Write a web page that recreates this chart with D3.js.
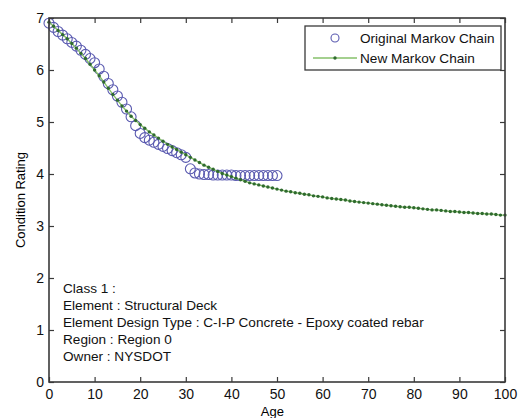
<!DOCTYPE html>
<html><head><meta charset="utf-8">
<script src="https://cdn.jsdelivr.net/npm/d3@7"></script>
<style>body{margin:0;background:#fff}svg{display:block}text{font-family:"Liberation Sans",Arial,sans-serif}</style>
</head><body>
<svg id="c" width="522" height="418"></svg>
<script>
const originalAges = d3.range(0, 51);
const originalValues = [6.90,6.82,6.74,6.67,6.60,6.53,6.46,6.38,6.30,6.22,
  6.14,6.02,5.88,5.74,5.62,5.50,5.38,5.25,5.10,4.93,
  4.78,4.70,4.65,4.61,4.57,4.53,4.49,4.45,4.41,4.37,
  4.32,4.10,4.02,4.00,3.99,3.99,3.98,3.98,3.98,3.98,
  3.98,3.97,3.97,3.97,3.97,3.97,3.97,3.97,3.97,3.97,3.97];
const newAges = d3.range(0, 101);
const newValues = [6.92,6.84,6.76,6.68,6.60,6.51,6.42,6.32,6.22,6.11,
  6.00,5.89,5.77,5.65,5.53,5.42,5.31,5.21,5.11,5.03,
  4.95,4.88,4.81,4.75,4.69,4.63,4.57,4.52,4.47,4.42,
  4.37,4.32,4.27,4.22,4.17,4.13,4.09,4.05,4.01,3.98,
  3.95,3.92,3.89,3.86,3.83,3.81,3.79,3.77,3.75,3.73,
  3.71,3.69,3.67,3.66,3.64,3.63,3.61,3.60,3.58,3.57,
  3.56,3.54,3.53,3.52,3.51,3.50,3.48,3.47,3.46,3.45,
  3.44,3.43,3.42,3.41,3.40,3.39,3.38,3.37,3.36,3.36,
  3.35,3.34,3.33,3.32,3.31,3.31,3.30,3.29,3.28,3.28,
  3.27,3.26,3.26,3.25,3.24,3.24,3.23,3.23,3.22,3.21,3.21];
const xTicks = [0,10,20,30,40,50,60,70,80,90,100];
const yTicks = [0,1,2,3,4,5,6,7];
const legendLabels = ["Original Markov Chain","New Markov Chain"];
const infoLines = ["Class 1 :","Element : Structural Deck","Element Design Type : C-I-P Concrete - Epoxy coated rebar","Region : Region 0","Owner : NYSDOT"];

const L=49,R=505,T=18,B=382;
const svg=d3.select("#c");
const x=d3.scaleLinear().domain([0,100]).range([L,R]);
const y=d3.scaleLinear().domain([0,7]).range([B,T]);
const axisCol="#3a3a3a";

// data
svg.append("g").selectAll("circle").data(originalAges).join("circle")
  .attr("cx",(d,i)=>x(d)).attr("cy",(d,i)=>y(originalValues[i])).attr("r",5)
  .attr("fill","none").attr("stroke","#5a5ab0").attr("stroke-width",1.1);

const line=d3.line().x((d,i)=>x(d)).y((d,i)=>y(newValues[i]));
svg.append("path").datum(newAges).attr("d",line).attr("fill","none")
  .attr("stroke","#86c06a").attr("stroke-width",1.4);
svg.append("g").selectAll("circle").data(newAges).join("circle")
  .attr("cx",d=>x(d)).attr("cy",(d,i)=>y(newValues[i])).attr("r",1.7)
  .attr("fill","#2f6a2f");

// axes
const gx=svg.append("g").attr("transform",`translate(0,${B})`)
  .call(d3.axisBottom(x).tickValues(xTicks).tickSize(-5).tickPadding(7).tickFormat(d3.format("d")));
const gxt=svg.append("g").attr("transform",`translate(0,${T})`)
  .call(d3.axisTop(x).tickValues(xTicks).tickSize(-5).tickFormat(""));
const gy=svg.append("g").attr("transform",`translate(${L},0)`)
  .call(d3.axisLeft(y).tickValues(yTicks).tickSize(-5).tickPadding(5).tickFormat(d3.format("d")));
const gyr=svg.append("g").attr("transform",`translate(${R},0)`)
  .call(d3.axisRight(y).tickValues(yTicks).tickSize(-5).tickFormat(""));
[gx,gxt,gy,gyr].forEach(g=>{
  g.select(".domain").remove();
  g.selectAll("line").attr("stroke",axisCol).attr("stroke-width",1.2);
  g.selectAll("text").attr("font-size",14).attr("fill","#111").attr("font-family","Liberation Sans, Arial, sans-serif");
});
svg.append("rect").attr("x",L).attr("y",T).attr("width",R-L).attr("height",B-T)
  .attr("fill","none").attr("stroke",axisCol).attr("stroke-width",1.6);

// axis labels
svg.append("text").attr("x",x(49)).attr("y",416).attr("text-anchor","middle")
  .attr("font-size",13).text("Age");
svg.append("text").attr("transform",`translate(22,${y(3.5)}) rotate(-90)`)
  .attr("text-anchor","middle").attr("dominant-baseline","middle").attr("font-size",13).text("Condition Rating");

// legend
const lg=svg.append("g");
lg.append("rect").attr("x",305).attr("y",26).attr("width",196).attr("height",44)
  .attr("fill","#fff").attr("stroke",axisCol).attr("stroke-width",1.3);
lg.append("circle").attr("cx",335).attr("cy",38).attr("r",4).attr("fill","none").attr("stroke","#5a5ab0").attr("stroke-width",1.1);
lg.append("line").attr("x1",313).attr("x2",357).attr("y1",58).attr("y2",58).attr("stroke","#86c06a").attr("stroke-width",1.4);
lg.append("circle").attr("cx",335).attr("cy",58).attr("r",1.7).attr("fill","#2f6a2f");
lg.selectAll("text.lab").data(legendLabels).join("text").attr("class","lab")
  .attr("x",360).attr("y",(d,i)=>43+i*20).attr("font-size",13.6).attr("fill","#111").text(d=>d);

// info text
svg.append("g").selectAll("text").data(infoLines).join("text")
  .attr("x",63).attr("y",(d,i)=>293+i*17).attr("font-size",13.6).attr("fill","#111").text(d=>d);
</script>
</body></html>
